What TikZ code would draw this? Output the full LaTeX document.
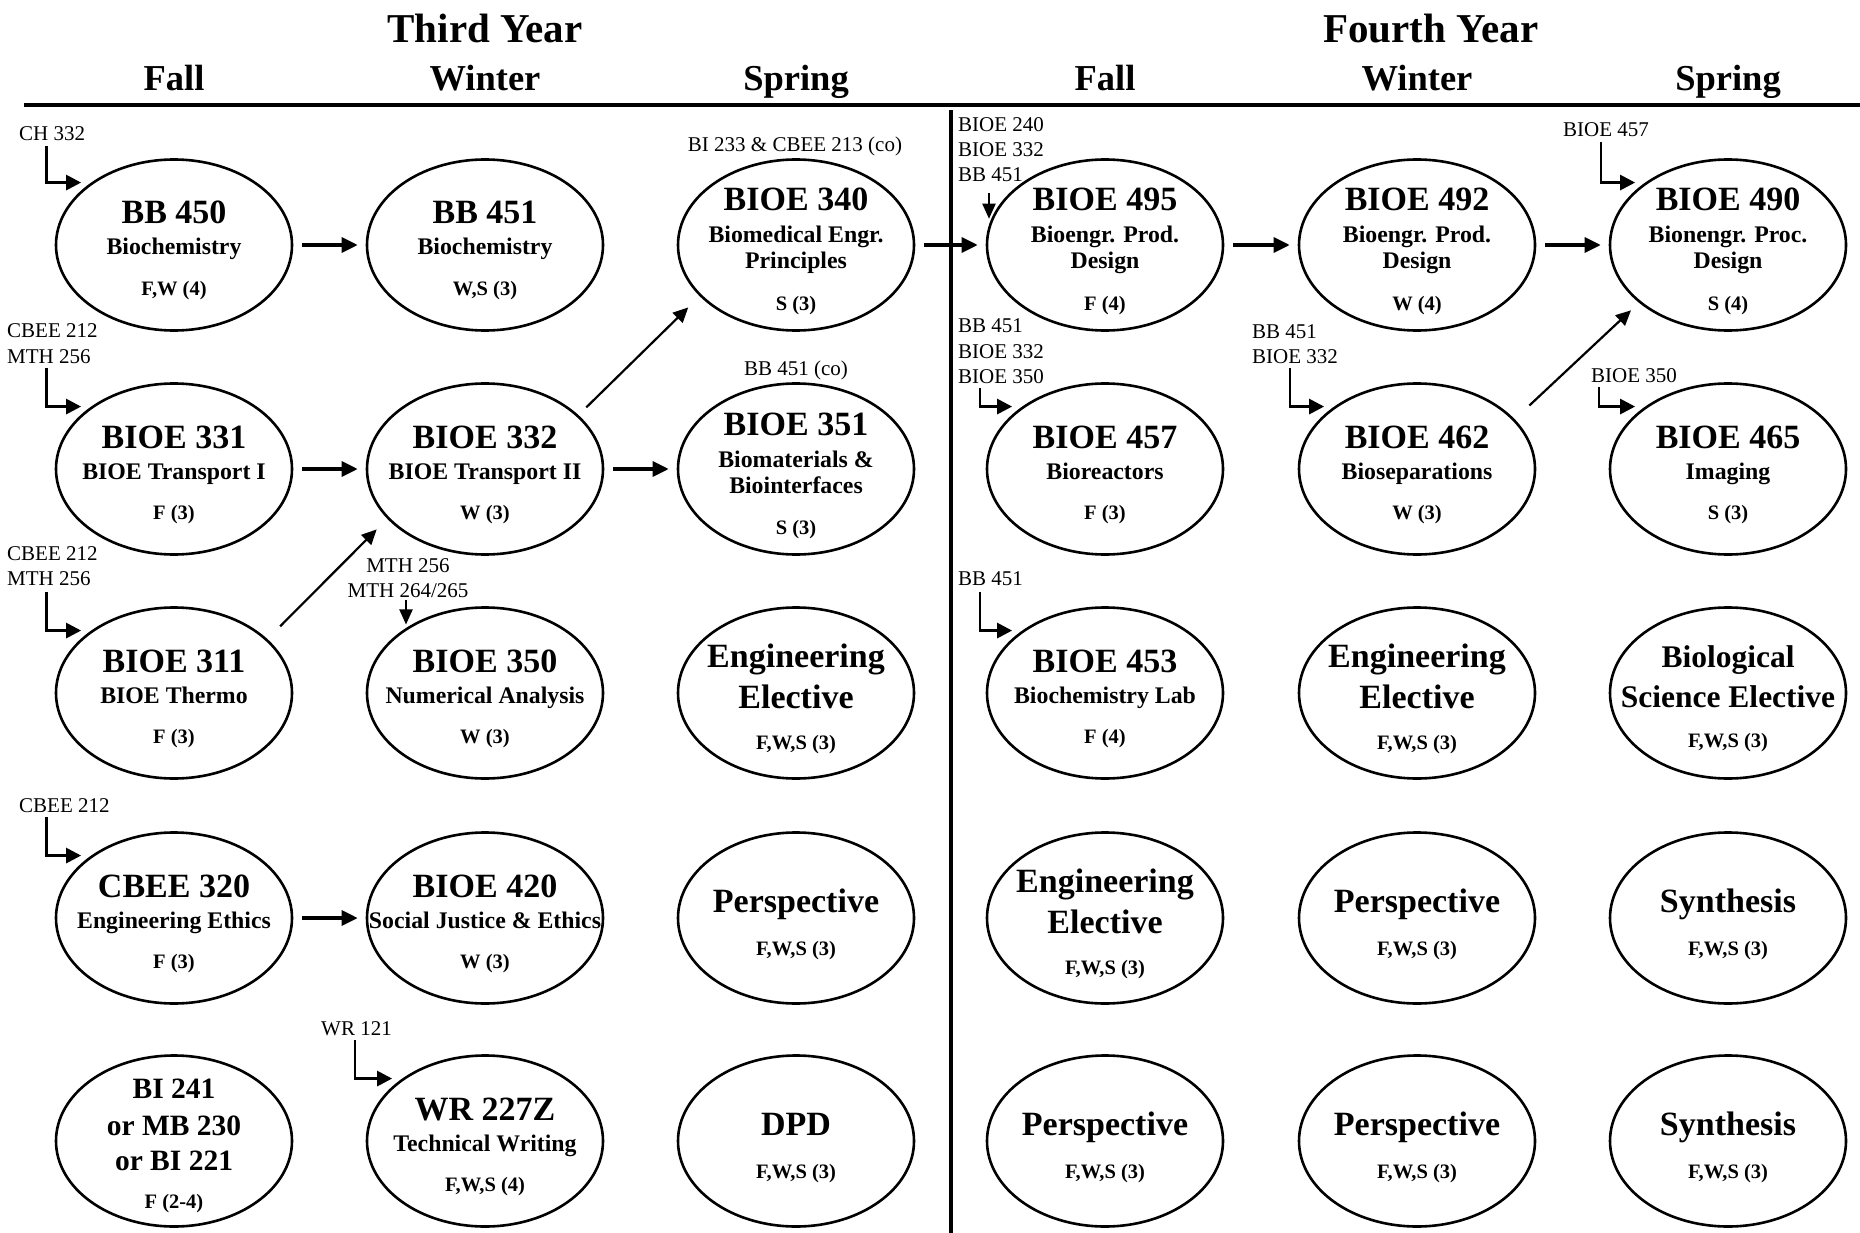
\documentclass[tikz,border=0pt]{standalone}
\usepackage{fontspec}
\setmainfont{Liberation Serif}
\usetikzlibrary{shapes.geometric,arrows.meta,calc}

\newcommand\crsA[6]{%
 \node[oval] (#1) at (#2,#3) {};
 \node[codef] (#1-c) at ($(#1)+(0,-21)$) {#4};
 \node[titlef] (#1-t) at ($(#1)+(0,10)$) {#5};
 \node[termf] (#1-s) at ($(#1)+(0,50)$) {#6};}
\newcommand\crsB[7]{%
 \node[oval] (#1) at (#2,#3) {};
 \node[codef] (#1-c) at ($(#1)+(0,-34)$) {#4};
 \node[titlef] (#1-t) at ($(#1)+(0,-2)$) {#5};
 \node[titlef] (#1-u) at ($(#1)+(0,24)$) {#6};
 \node[termf] (#1-s) at ($(#1)+(0,65)$) {#7};}
\newcommand\crsC[6]{%
 \node[oval] (#1) at (#2,#3) {};
 \node[bigf] (#1-c) at ($(#1)+(0,-26)$) {#4};
 \node[bigf] (#1-t) at ($(#1)+(0,15)$) {#5};
 \node[termf] (#1-s) at ($(#1)+(0,56)$) {#6};}
\newcommand\crsD[5]{%
 \node[oval] (#1) at (#2,#3) {};
 \node[bigf] (#1-c) at ($(#1)+(0,-6)$) {#4};
 \node[termf] (#1-s) at ($(#1)+(0,37)$) {#5};}
\newcommand\prl[4]{\node[pref,anchor=base west] (#1) at (#2,#3) {#4};}
\newcommand\prc[4]{\node[pref,anchor=base] (#1) at (#2,#3) {#4};}

\begin{document}
\begin{tikzpicture}[x=1pt,y=-1pt,
  oval/.style={draw, ellipse, line width=2.6pt, minimum width=236pt, minimum height=171pt, inner sep=0pt},
  txt/.style={anchor=base, inner sep=0pt},
  codef/.style={txt, font=\fontsize{34}{40}\selectfont\bfseries},
  bigf/.style={txt, font=\fontsize{34}{40}\selectfont\bfseries},
  biof/.style={txt, font=\fontsize{31.5}{36}\selectfont\bfseries},
  altf/.style={txt, font=\fontsize{29.5}{34}\selectfont\bfseries},
  titlef/.style={txt, font=\fontsize{23.8}{28}\selectfont\bfseries},
  termf/.style={txt, font=\fontsize{20.5}{24}\selectfont\bfseries},
  yearf/.style={txt, font=\fontsize{41}{48}\selectfont\bfseries},
  seasonf/.style={txt, font=\fontsize{36.5}{42}\selectfont\bfseries},
  pref/.style={inner sep=0pt, font=\fontsize{21}{25}\selectfont},
  harrow/.style={line width=3.3pt, -{Triangle[length=16pt,width=15pt]}, shorten <=9pt, shorten >=8pt},
  darrow/.style={line width=2.2pt, -{Triangle[length=15pt,width=14pt]}},
  parrow/.style={line width=2.8pt, -{Triangle[length=15pt,width=15pt]}, shorten >=10pt},
  varrow/.style={line width=2pt, -{Triangle[length=15pt,width=13pt]}}
]
\useasboundingbox (0,0) rectangle (1860,1233);
\fill[white] (0,0) rectangle (1860,1233);

% headings
\node[yearf] (y3) at (485,43) {Third Year};
\node[yearf] (y4) at (1431,43) {Fourth Year};
\node[seasonf] (s31) at (174,91) {Fall};
\node[seasonf] (s32) at (485,91) {Winter};
\node[seasonf] (s33) at (796,91) {Spring};
\node[seasonf] (s41) at (1105,91) {Fall};
\node[seasonf] (s42) at (1417,91) {Winter};
\node[seasonf] (s43) at (1728,91) {Spring};
\draw[line width=3.3pt] (24,105) -- (1860,105);
\draw[line width=3.5pt] (951,110) -- (951,1233);

% column 1
\crsA{bb450}{174}{245}{BB 450}{Biochemistry}{F,W (4)}
\crsA{bioe331}{174}{469}{BIOE 331}{BIOE Transport I}{F (3)}
\crsA{bioe311}{174}{693}{BIOE 311}{BIOE Thermo}{F (3)}
\crsA{cbee320}{174}{918}{CBEE 320}{Engineering Ethics}{F (3)}
\node[oval] (bi241) at (174,1141) {};
\node[altf] (bi241-a) at ($(bi241)+(0,-43)$) {BI 241};
\node[altf] (bi241-b) at ($(bi241)+(0,-6)$) {or MB 230};
\node[altf] (bi241-c) at ($(bi241)+(0,29)$) {or BI 221};
\node[termf] (bi241-s) at ($(bi241)+(0,67)$) {F (2-4)};

% column 2
\crsA{bb451}{485}{245}{BB 451}{Biochemistry}{W,S (3)}
\crsA{bioe332}{485}{469}{BIOE 332}{BIOE Transport II}{W (3)}
\crsA{bioe350}{485}{693}{BIOE 350}{Numerical Analysis}{W (3)}
\crsA{bioe420}{485}{918}{BIOE 420}{Social Justice \& Ethics}{W (3)}
\crsA{wr227}{485}{1141}{WR 227Z}{Technical Writing}{F,W,S (4)}

% column 3
\crsB{bioe340}{796}{245}{BIOE 340}{Biomedical Engr.}{Principles}{S (3)}
\crsB{bioe351}{796}{469}{BIOE 351}{Biomaterials \&}{Biointerfaces}{S (3)}
\crsC{ee33}{796}{693}{Engineering}{Elective}{F,W,S (3)}
\crsD{pe33}{796}{918}{Perspective}{F,W,S (3)}
\crsD{dpd}{796}{1141}{DPD}{F,W,S (3)}

% column 4
\crsB{bioe495}{1105}{245}{BIOE 495}{Bioengr. Prod.}{Design}{F (4)}
\crsA{bioe457}{1105}{469}{BIOE 457}{Bioreactors}{F (3)}
\crsA{bioe453}{1105}{693}{BIOE 453}{Biochemistry Lab}{F (4)}
\crsC{ee41}{1105}{918}{Engineering}{Elective}{F,W,S (3)}
\crsD{pe41}{1105}{1141}{Perspective}{F,W,S (3)}

% column 5
\crsB{bioe492}{1417}{245}{BIOE 492}{Bioengr. Prod.}{Design}{W (4)}
\crsA{bioe462}{1417}{469}{BIOE 462}{Bioseparations}{W (3)}
\crsC{ee42}{1417}{693}{Engineering}{Elective}{F,W,S (3)}
\crsD{pe42a}{1417}{918}{Perspective}{F,W,S (3)}
\crsD{pe42b}{1417}{1141}{Perspective}{F,W,S (3)}

% column 6
\crsB{bioe490}{1728}{245}{BIOE 490}{Bionengr. Proc.}{Design}{S (4)}
\crsA{bioe465}{1728}{469}{BIOE 465}{Imaging}{S (3)}
\node[oval] (bse) at (1728,693) {};
\node[biof] (bse-a) at ($(bse)+(0,-26)$) {Biological};
\node[biof] (bse-b) at ($(bse)+(0,14)$) {Science Elective};
\node[termf] (bse-s) at ($(bse)+(0,54)$) {F,W,S (3)};
\crsD{syn1}{1728}{918}{Synthesis}{F,W,S (3)}
\crsD{syn2}{1728}{1141}{Synthesis}{F,W,S (3)}

% prerequisite labels
\prl{pa}{19}{140.5}{CH 332}
\prl{pb1}{7}{337}{CBEE 212}
\prl{pb2}{7}{363}{MTH 256}
\prl{pc1}{7}{560}{CBEE 212}
\prl{pc2}{7}{585}{MTH 256}
\prl{pd}{19}{812}{CBEE 212}
\prc{pe1}{408}{572}{MTH 256}
\prc{pe2}{408}{597}{MTH 264/265}
\prc{pf}{795}{152}{BI 233 \& CBEE 213 (co)}
\prc{pg}{796}{375}{BB 451 (co)}
\prl{ph1}{958}{132}{BIOE 240}
\prl{ph2}{958}{157}{BIOE 332}
\prl{ph3}{958}{182}{BB 451}
\prl{pi1}{958}{332}{BB 451}
\prl{pi2}{958}{358}{BIOE 332}
\prl{pi3}{958}{383}{BIOE 350}
\prl{pj1}{1252}{338}{BB 451}
\prl{pj2}{1252}{363}{BIOE 332}
\prl{pk}{1591}{382}{BIOE 350}
\prl{pl}{1563}{137}{BIOE 457}
\prl{pm}{958}{585}{BB 451}
\prl{pn}{321}{1035}{WR 121}

% free ends of prerequisite arrows
\coordinate (qa) at (46.5,146);
\coordinate (qb) at (46.5,368);
\coordinate (qc) at (46.5,592);
\coordinate (qd) at (46.5,817);
\coordinate (qe) at (406,600);
\coordinate (qh) at (989,193);
\coordinate (qi) at (980,388);
\coordinate (qj) at (1290,368);
\coordinate (qk) at (1599,387);
\coordinate (ql) at (1601,142);
\coordinate (qm) at (980,592);
\coordinate (qn) at (355,1040);

\draw[parrow] (qa) |- (bb450.143);
\draw[parrow] (qb) |- (bioe331.143);
\draw[parrow] (qc) |- (bioe311.143);
\draw[parrow] (qd) |- (cbee320.143);
\draw[parrow] (qi) |- (bioe457.143);
\draw[parrow] (qj) |- (bioe462.143);
\draw[parrow] (qk) |- (bioe465.143);
\draw[parrow] (ql) |- (bioe490.143);
\draw[parrow] (qm) |- (bioe453.143);
\draw[parrow] (qn) |- (wr227.143);
\draw[varrow, shorten >=5pt] (qe) -- (qe |- bioe350.142);
\draw[varrow] (qh) -- (qh |- bioe495.167);

% course-to-course arrows
\draw[harrow] (bb450.east) -- (bb451.west);
\draw[harrow] (bioe331.east) -- (bioe332.west);
\draw[harrow] (bioe332.east) -- (bioe351.west);
\draw[harrow] (cbee320.east) -- (bioe420.west);
\draw[harrow] (bioe340.east) -- (bioe495.west);
\draw[harrow] (bioe495.east) -- (bioe492.west);
\draw[harrow] (bioe492.east) -- (bioe490.west);
\draw[darrow, shorten <=11pt, shorten >=16pt] (bioe332.30) -- (bioe340.208);
\draw[darrow, shorten <=18pt, shorten >=15pt] (bioe311.30) -- (bioe332.207);
\draw[darrow, shorten <=20pt, shorten >=11pt] (bioe462.27) -- (bioe490.213);
\end{tikzpicture}
\end{document}
